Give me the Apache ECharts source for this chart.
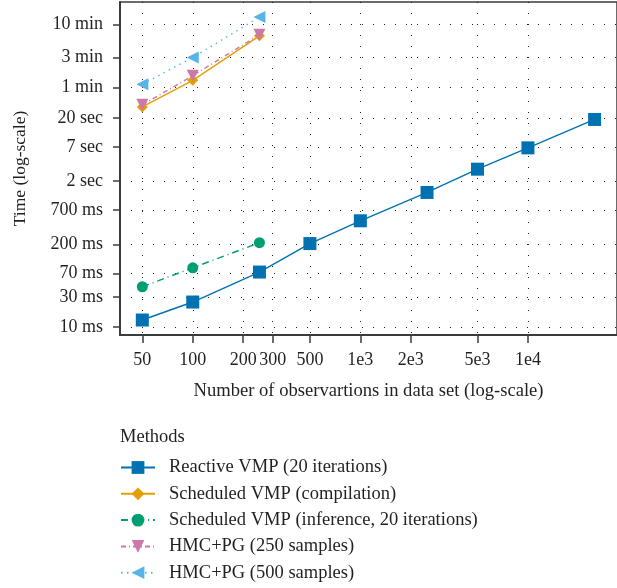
<!DOCTYPE html>
<html>
<head>
<meta charset="utf-8">
<script src="https://cdn.jsdelivr.net/npm/echarts@6/dist/echarts.min.js"></script>
<style>html,body{margin:0;padding:0;background:#fff}#c{width:617px;height:588px}</style>
</head>
<body>
<div id="c"></div>
<script>
// ---- data ----
const xLarge = [50, 100, 250, 500, 1000, 2500, 5000, 10000, 25000];
const xSmall = [50, 100, 250];
const reactiveVMP = [0.0129, 0.0248, 0.0737, 0.2075, 0.475, 1.33, 3.10, 6.73, 18.9];
const scheduledCompilation = [29.8, 78.4, 395];
const scheduledInference = [0.0432, 0.0861, 0.214];
const hmc250 = [32.1, 92.9, 410];
const hmc500 = [68, 179.5, 781];
const seriesNames = [
  'Reactive VMP (20 iterations)',
  'Scheduled VMP (compilation)',
  'Scheduled VMP (inference, 20 iterations)',
  'HMC+PG (250 samples)',
  'HMC+PG (500 samples)'
];
const xTickValues = [50, 100, 200, 300, 500, 1000, 2000, 5000, 10000];
const xTickLabels = ['50', '100', '200', '300', '500', '1e3', '2e3', '5e3', '1e4'];
const yTickValues = [0.01, 0.03, 0.07, 0.2, 0.7, 2, 7, 20, 60, 180, 600];
const yTickLabels = ['10 ms', '30 ms', '70 ms', '200 ms', '700 ms', '2 sec', '7 sec', '20 sec', '1 min', '3 min', '10 min'];
const xRange = [36.8, 34000];
const yRange = [0.00748, 1350];

// ---- chart ----
const FONT = 'Liberation Serif';
const TXT = '#231f20';
const AX = '#3b3b3b';
function pairs(xs, ys) { return xs.map((x, i) => [x, ys[i]]); }
function labelFor(vals, labels) {
  return function (v) {
    let best = 0, bd = Infinity;
    vals.forEach((t, i) => { const d = Math.abs(Math.log10(t) - v); if (d < bd) { bd = d; best = i; } });
    return bd < 1e-6 ? labels[best] : '';
  };
}
const xLogTicks = xTickValues.map(Math.log10);
const yLogTicks = yTickValues.map(Math.log10);
const split = { show: true, lineStyle: { color: '#222', width: 1, type: [1, 10] } };

const chart = echarts.init(document.getElementById('c'), null, { renderer: 'canvas' });
chart.setOption({
  animation: false,
  backgroundColor: '#fff',
  textStyle: { fontFamily: FONT },
  title: {
    text: 'Methods', left: 120, top: 428, padding: 0,
    textStyle: { fontFamily: FONT, fontSize: 18.5, fontWeight: 'normal', color: TXT }
  },
  legend: {
    orient: 'vertical', left: 120, top: 458, padding: 0, height: 130,
    itemWidth: 34, itemHeight: 16, itemGap: 7.3,
    data: seriesNames,
    textStyle: { fontFamily: FONT, fontSize: 18.5, color: TXT, padding: [0, 0, 0, 9] }
  },
  grid: { left: 120, top: 2, right: -9, bottom: 253, show: true, borderColor: AX, borderWidth: 1.5, backgroundColor: 'transparent' },
  xAxis: [
    { type: 'log', min: xRange[0], max: xRange[1], show: false },
    {
      type: 'value', position: 'bottom',
      min: Math.log10(xRange[0]), max: Math.log10(xRange[1]),
      name: 'Number of observartions in data set (log-scale)',
      nameLocation: 'middle', nameGap: 47,
      nameTextStyle: { fontFamily: FONT, fontSize: 18.6, color: TXT },
      axisLine: { show: true, onZero: false, lineStyle: { color: AX, width: 2 } },
      axisTick: { show: true, inside: false, length: 8, lineStyle: { color: AX, width: 1.5 }, customValues: xLogTicks },
      axisLabel: { customValues: xLogTicks, margin: 16, fontFamily: FONT, fontSize: 18, color: TXT, formatter: labelFor(xTickValues, xTickLabels) },
      splitLine: split
    }
  ],
  yAxis: [
    { type: 'log', min: yRange[0], max: yRange[1], show: false },
    {
      type: 'value', position: 'left',
      min: Math.log10(yRange[0]), max: Math.log10(yRange[1]),
      name: 'Time (log-scale)', nameLocation: 'middle', nameGap: 91,
      nameTextStyle: { fontFamily: FONT, fontSize: 17.5, color: TXT },
      axisLine: { show: true, onZero: false, lineStyle: { color: AX, width: 2 } },
      axisTick: { show: true, inside: false, length: 7, lineStyle: { color: AX, width: 1.5 }, customValues: yLogTicks },
      axisLabel: { customValues: yLogTicks, margin: 17, fontFamily: FONT, fontSize: 18, color: TXT, formatter: labelFor(yTickValues, yTickLabels) },
      splitLine: split
    }
  ],
  series: [
    {
      name: seriesNames[0], type: 'line', xAxisIndex: 0, yAxisIndex: 0,
      data: pairs(xLarge, reactiveVMP), symbol: 'rect', symbolSize: 13,
      itemStyle: { color: '#0072B2' }, lineStyle: { color: '#0072B2', width: 1.4, type: 'solid' }, z: 5
    },
    {
      name: seriesNames[1], type: 'line', xAxisIndex: 0, yAxisIndex: 0,
      data: pairs(xSmall, scheduledCompilation), symbol: 'diamond', symbolSize: 11,
      itemStyle: { color: '#E69F00' }, lineStyle: { color: '#E69F00', width: 1.4, type: 'solid' }, z: 3
    },
    {
      name: seriesNames[2], type: 'line', xAxisIndex: 0, yAxisIndex: 0,
      data: pairs(xSmall, scheduledInference), symbol: 'circle', symbolSize: 11,
      itemStyle: { color: '#009E73' }, lineStyle: { color: '#009E73', width: 1.4, type: [7, 4, 1, 4] }, z: 4
    },
    {
      name: seriesNames[3], type: 'line', xAxisIndex: 0, yAxisIndex: 0,
      data: pairs(xSmall, hmc250), symbol: 'triangle', symbolRotate: 180, symbolSize: 12,
      itemStyle: { color: '#CC79A7' }, lineStyle: { color: '#CC79A7', width: 1.4, type: [5, 3, 1, 3] }, z: 4
    },
    {
      name: seriesNames[4], type: 'line', xAxisIndex: 0, yAxisIndex: 0,
      data: pairs(xSmall, hmc500), symbol: 'triangle', symbolRotate: 90, symbolSize: 12,
      itemStyle: { color: '#56B4E9' }, lineStyle: { color: '#56B4E9', width: 1.4, type: [1.5, 4.5] }, z: 4
    }
  ]
});
</script>
</body>
</html>
